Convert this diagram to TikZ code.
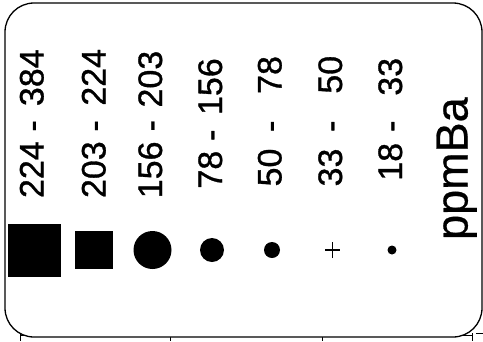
\documentclass[tikz,border=0pt]{standalone}
\usepackage{fontspec}
\newfontfamily\labfont[FakeBold=0.9]{Liberation Sans}
\newfontfamily\unitfont[FakeBold=0.6]{Liberation Sans}
\newcommand\rg[4]{#1\hspace{#2pt}-\hspace{#3pt}#4}
\begin{document}
\begin{tikzpicture}[x=1pt,y=-1pt,
  lab/.style={inner sep=0pt,outer sep=0pt,anchor=base west,rotate=90,
    font=\labfont\fontsize{34}{40}\selectfont},
  unit/.style={inner sep=0pt,outer sep=0pt,anchor=base west,rotate=90,
    font=\unitfont\fontsize{45}{50}\selectfont},
  sq/.style={fill=black,draw=none,inner sep=0pt,outer sep=0pt,rectangle},
  dot/.style={fill=black,draw=none,inner sep=0pt,outer sep=0pt,circle},
  frame/.style={draw=black,line width=1.3pt,rounded corners=29pt},
  tick/.style={draw=black,line width=0.9pt}]
\useasboundingbox[fill=white] (0,0) rectangle (483,341);
% map frame pieces below the legend
\draw[tick] (20,335) -- (472,335);
\draw[tick] (20,333) -- (20,341);
\draw[tick] (170,335) -- (170,341);
\draw[tick] (322,335) -- (322,341);
\draw[tick] (472,333) -- (472,341);
\draw[tick] (476,333) -- (483,333);
% legend frame
\draw[frame,fill=white] (5,3) rectangle (482,337);
% symbols
\node[sq,minimum size=53pt] (s1) at (34,250) {};
\node[sq,minimum size=38pt] (s2) at (93.5,250) {};
\node[dot,minimum size=38pt] (s3) at (152.5,250) {};
\node[dot,minimum size=24pt] (s4) at (212,250) {};
\node[dot,minimum size=16pt] (s5) at (272,250) {};
\coordinate (s6) at (332.5,250);
\draw[line width=1.2pt] ([xshift=-7.5pt]s6) -- ([xshift=7.5pt]s6)
  ([yshift=-8pt]s6) -- ([yshift=8pt]s6);
\node[dot,minimum size=9pt] (s7) at (392,250) {};
% labels
\node[lab] (l1) at (43.5,198) {\rg{224}{9.7}{14.2}{384}};
\node[lab] (l2) at (105.5,198) {\rg{203}{9.7}{14.6}{224}};
\node[lab] (l3) at (162,198.2) {\rg{156}{10.2}{12.5}{203}};
\node[lab] (l4) at (222,188.6) {\rg{78}{9.9}{14.6}{156}};
\node[lab] (l5) at (281.5,186.4) {\rg{50}{16.7}{26.7}{78}};
\node[lab] (l6) at (342,186.4) {\rg{33}{16.7}{26.9}{50}};
\node[lab] (l7) at (402,180.7) {\rg{18}{11}{24.9}{33}};
\node[unit] (u) at (467.5,239.9) {ppmBa};
\end{tikzpicture}
\end{document}
